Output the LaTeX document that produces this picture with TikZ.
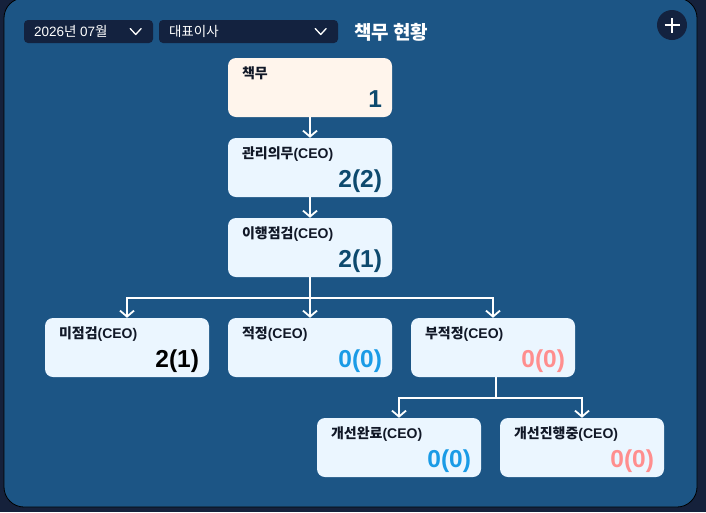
\documentclass[tikz,border=0pt]{standalone}
\usepackage{fontspec}
\setmainfont{Liberation Sans}
\newfontfamily\kr{Noto Sans CJK KR}
\usetikzlibrary{arrows.meta}
\definecolor{pagebg}{HTML}{15213B}
\definecolor{panel}{HTML}{1C5585}
\definecolor{ddbg}{HTML}{13223F}
\definecolor{cream}{HTML}{FFF5EC}
\definecolor{lightblue}{HTML}{EBF6FF}
\definecolor{numteal}{HTML}{0E4A6E}
\definecolor{numblue}{HTML}{1A9BE6}
\definecolor{numpink}{HTML}{FF8E8E}
\definecolor{lbltext}{HTML}{111827}
\tikzset{
  box/.style={draw=none, rounded corners=8pt, minimum width=164pt, minimum height=59pt, inner sep=0pt, fill=lightblue},
  lbl/.style={anchor=base west, inner sep=0pt, font=\fontsize{14}{16}\selectfont\bfseries, text=lbltext},
  num/.style={anchor=base east, inner sep=0pt, font=\fontsize{24.5}{28}\selectfont\bfseries},
  line/.style={draw=white, line width=1.8pt},
  conn/.style={line, -{Straight Barb[length=6pt,width=14pt,line width=1.8pt]}},
  dd/.style={fill=ddbg, rounded corners=4pt, draw=none, minimum height=23pt, inner sep=0pt},
  ddtext/.style={anchor=west, inner sep=0pt, text=white, font=\fontsize{13.5}{15}\selectfont},
  chev/.style={draw=white, line width=1.3pt, line cap=round, line join=round}
}
\begin{document}
\begin{tikzpicture}[x=1pt,y=-1pt]
\useasboundingbox (0,0) rectangle (706,512);
\fill[pagebg] (0,0) rectangle (706,512);
\draw[fill=panel, draw=black, line width=0.8pt, rounded corners=20pt] (4,-2) rectangle (697,507);
% dropdowns
\node[dd, minimum width=129pt] (dd1) at (88.5,31.5) {};
\node[ddtext] (dd1t) at ([xshift=10pt]dd1.west) {2026{\kr 년} 07{\kr 월}};
\draw[chev] ([xshift=-23pt,yshift=3pt]dd1.east) -- ([xshift=-17.5pt,yshift=-3pt]dd1.east) -- ([xshift=-12pt,yshift=3pt]dd1.east);
\node[dd, minimum width=179pt] (dd2) at (248.5,31.5) {};
\node[ddtext] (dd2t) at ([xshift=10pt]dd2.west) {\kr 대표이사};
\draw[chev] ([xshift=-23pt,yshift=3pt]dd2.east) -- ([xshift=-17.5pt,yshift=-3pt]dd2.east) -- ([xshift=-12pt,yshift=3pt]dd2.east);
\node[anchor=west, inner sep=0pt, text=white, font=\fontsize{19}{21}\selectfont\bfseries\kr] (title) at (354,32) {책무 현황};
% plus button
\node[circle, fill=ddbg, minimum size=30pt, inner sep=0pt] (plus) at (672,25) {};
\draw[white, line width=1.7pt] ([xshift=-7.5pt]plus.center) -- ([xshift=7.5pt]plus.center);
\draw[white, line width=1.7pt] ([yshift=-7.5pt]plus.center) -- ([yshift=7.5pt]plus.center);
% nodes
\node[box, fill=cream] (a) at (310,87.5) {};
\node[box] (b) at (310,167.5) {};
\node[box] (c) at (310,247.5) {};
\node[box] (d) at (127,347.5) {};
\node[box] (e) at (310,347.5) {};
\node[box] (f) at (493,347.5) {};
\node[box] (g) at (399,447.5) {};
\node[box] (h) at (582,447.5) {};
% labels and values
\newcommand{\boxtext}[4]{%
  \node[lbl] (#1l) at ([xshift=14pt,yshift=-21pt]#1.north west) {#2};
  \node[num, text=#4] (#1n) at ([xshift=-10pt,yshift=10pt]#1.south east) {#3};
}
\boxtext{a}{\kr 책무}{1}{numteal}
\boxtext{b}{{\kr 관리의무}(CEO)}{2(2)}{numteal}
\boxtext{c}{{\kr 이행점검}(CEO)}{2(1)}{numteal}
\boxtext{d}{{\kr 미점검}(CEO)}{2(1)}{black}
\boxtext{e}{{\kr 적정}(CEO)}{0(0)}{numblue}
\boxtext{f}{{\kr 부적정}(CEO)}{0(0)}{numpink}
\boxtext{g}{{\kr 개선완료}(CEO)}{0(0)}{numblue}
\boxtext{h}{{\kr 개선진행중}(CEO)}{0(0)}{numpink}
% connectors
\draw[conn] (a.south) -- (b.north);
\draw[conn] (b.south) -- (c.north);
\coordinate (j1) at (310,298);
\draw[line] (c.south) -- (j1);
\draw[conn] (j1) -| (d.north);
\draw[conn] (j1) -- (e.north);
\draw[conn] (j1) -| (f.north);
\coordinate (j2) at (496,398);
\draw[line] ([xshift=3pt]f.south) -- (j2);
\draw[conn] (j2) -| (g.north);
\draw[conn] (j2) -| (h.north);
\end{tikzpicture}
\end{document}
